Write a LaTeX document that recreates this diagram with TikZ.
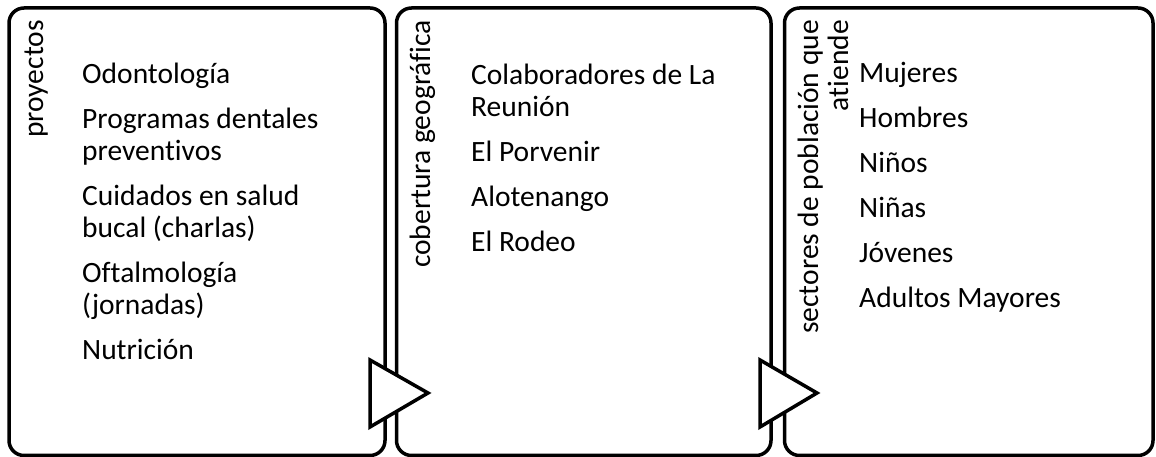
\documentclass[tikz,border=0pt]{standalone}
\usepackage{fontspec}
\setmainfont[Ligatures=NoCommon]{Carlito}
\begin{document}
\begin{tikzpicture}[x=1pt,y=1pt,
  panel/.style={draw=black, line width=3.5pt, rounded corners=15pt, fill=white},
  chevron/.style={draw=black, line width=3.5pt, fill=white, line join=miter},
  title/.style={rotate=90, anchor=base east, inner sep=0pt, font=\fontsize{29.5}{30}\selectfont, align=right},
  items/.style={anchor=base west, inner sep=0pt, font=\fontsize{29.5}{32}\selectfont, align=left}]
\useasboundingbox (0,0) rectangle (1156,457);
% panels
\draw[panel] (9,1.5) rectangle (385,449);
\draw[panel] (396.5,1.5) rectangle (771,449);
\draw[panel] (784.5,1.5) rectangle (1153,449);
% titles (base anchor = baseline of the last line)
\node[title] (t1) at (43,437) {proyectos};
\node[title] (t2) at (430,437) {cobertura geográfica};
\node[title] (t3) at (848,437) {sectores de población que\\atiende};
% items (base anchor = baseline of the last line)
\node[items] (l1) at (82,97) {Odontología\\[13pt]Programas dentales\\preventivos\\[13pt]Cuidados en salud\\bucal (charlas)\\[13pt]Oftalmología\\(jornadas)\\[13pt]Nutrición};
\node[items] (l2) at (471,205) {Colaboradores de La\\Reunión\\[13pt]El Porvenir\\[13pt]Alotenango\\[13pt]El Rodeo};
\node[items] (l3) at (859,149) {Mujeres\\[13pt]Hombres\\[13pt]Niños\\[13pt]Niñas\\[13pt]Jóvenes\\[13pt]Adultos Mayores};
% arrows
\draw[chevron] (370,97) -- (428,64) -- (370,30) -- cycle;
\draw[chevron] (760,97) -- (817,64) -- (760,30) -- cycle;
\end{tikzpicture}
\end{document}
